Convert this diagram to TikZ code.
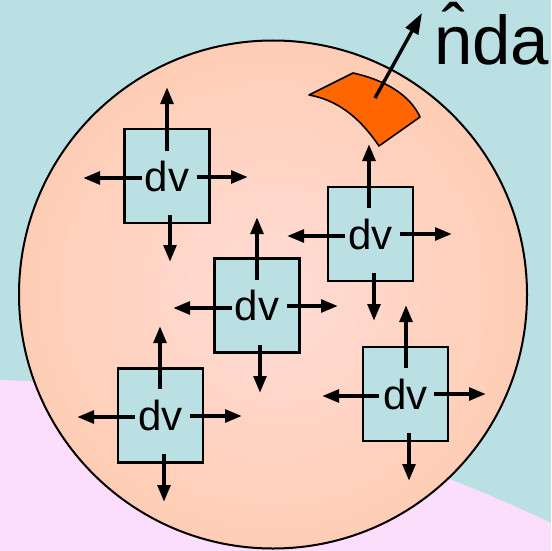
\documentclass[tikz,border=0pt]{standalone}
\usepackage{fontspec}
\setmainfont{Liberation Sans}
\usetikzlibrary{arrows.meta}
\definecolor{bgteal}{RGB}{186,224,227}
\definecolor{bgpink}{RGB}{252,222,252}
\definecolor{orbin}{RGB}{255,220,214}
\definecolor{orbmid}{RGB}{255,207,185}
\definecolor{orbout}{RGB}{255,190,146}
\definecolor{patchorange}{RGB}{255,102,0}
\pgfdeclareradialshading{orb}{\pgfpoint{0bp}{0bp}}{color(0bp)=(orbin); color(22bp)=(orbmid); color(50bp)=(orbout)}
\tikzset{
  dvbox/.style={draw=black, line width=2.2pt, fill=bgteal, minimum width=85pt, minimum height=94pt, inner sep=0pt,
    font=\fontsize{42}{50}\selectfont},
  flux/.style={line width=4pt, -{Triangle[length=17pt,width=12.5pt]}},
  normalarrow/.style={line width=3.4pt, -{Triangle[length=21pt,width=14pt]}}
}
\begin{document}
\begin{tikzpicture}[x=1pt,y=-1pt]
\useasboundingbox (0,0) rectangle (551,551);
% background
\fill[bgteal] (0,0) rectangle (551,551);
\fill[bgpink] (0,380) .. controls (180,384) and (400,450) .. (551,523) -- (551,551) -- (0,551) -- cycle;
% sphere
\shade[shading=orb] (273,294.5) circle[radius=254];
\draw[line width=2pt] (273,294.5) circle[radius=254];
% surface patch
\filldraw[fill=patchorange, draw=black, line width=1.6pt, line join=round]
  (309,95) -- (353,73) .. controls (385,80) and (410,95) .. (420,117)
  -- (379,146) .. controls (364,124) and (343,101) .. cycle;
\coordinate (nbase) at (375,98);
\coordinate (ntip) at (422,13);
\draw[normalarrow] (nbase) -- (ntip);
\node[anchor=base west, inner sep=0pt, font=\fontsize{69}{83}\selectfont] (nda) at (434,64) {\^{n}da};
% volume elements
\node[dvbox] (b1) at (167,176) {dv};
\node[dvbox] (b2) at (257,305.5) {dv};
\node[dvbox] (b3) at (370.5,234) {dv};
\node[dvbox] (b4) at (160.5,415.5) {dv};
\node[dvbox] (b5) at (405.5,394) {dv};
% box 1
\draw[flux] ([shift={(0,-25)}]b1.center) -- ++(0,-64);
\draw[flux] ([shift={(-25,2)}]b1.center) -- ++(-59,0);
\draw[flux] ([shift={(30,1)}]b1.center) -- ++(51,0);
\draw[flux] ([shift={(3,39)}]b1.center) -- ++(0,47);
% box 2
\draw[flux] ([shift={(0,-25.5)}]b2.center) -- ++(0,-63);
\draw[flux] ([shift={(-25,2.5)}]b2.center) -- ++(-59,0);
\draw[flux] ([shift={(30,0.5)}]b2.center) -- ++(51,0);
\draw[flux] ([shift={(3,39.5)}]b2.center) -- ++(0,48);
% box 3
\draw[flux] ([shift={(-1.5,-26)}]b3.center) -- ++(0,-64);
\draw[flux] ([shift={(-25.5,2)}]b3.center) -- ++(-58,0);
\draw[flux] ([shift={(29.5,0)}]b3.center) -- ++(52,0);
\draw[flux] ([shift={(3.5,39)}]b3.center) -- ++(0,48);
% box 4
\draw[flux] ([shift={(-0.5,-26.5)}]b4.center) -- ++(0,-63);
\draw[flux] ([shift={(-25.5,1.5)}]b4.center) -- ++(-58,0);
\draw[flux] ([shift={(29.5,0.5)}]b4.center) -- ++(52,0);
\draw[flux] ([shift={(3.5,38.5)}]b4.center) -- ++(0,48);
% box 5
\draw[flux] ([shift={(0.5,-26)}]b5.center) -- ++(0,-63);
\draw[flux] ([shift={(-26.5,2)}]b5.center) -- ++(-57,0);
\draw[flux] ([shift={(28.5,0)}]b5.center) -- ++(52,0);
\draw[flux] ([shift={(3.5,39)}]b5.center) -- ++(0,48);
\end{tikzpicture}
\end{document}
